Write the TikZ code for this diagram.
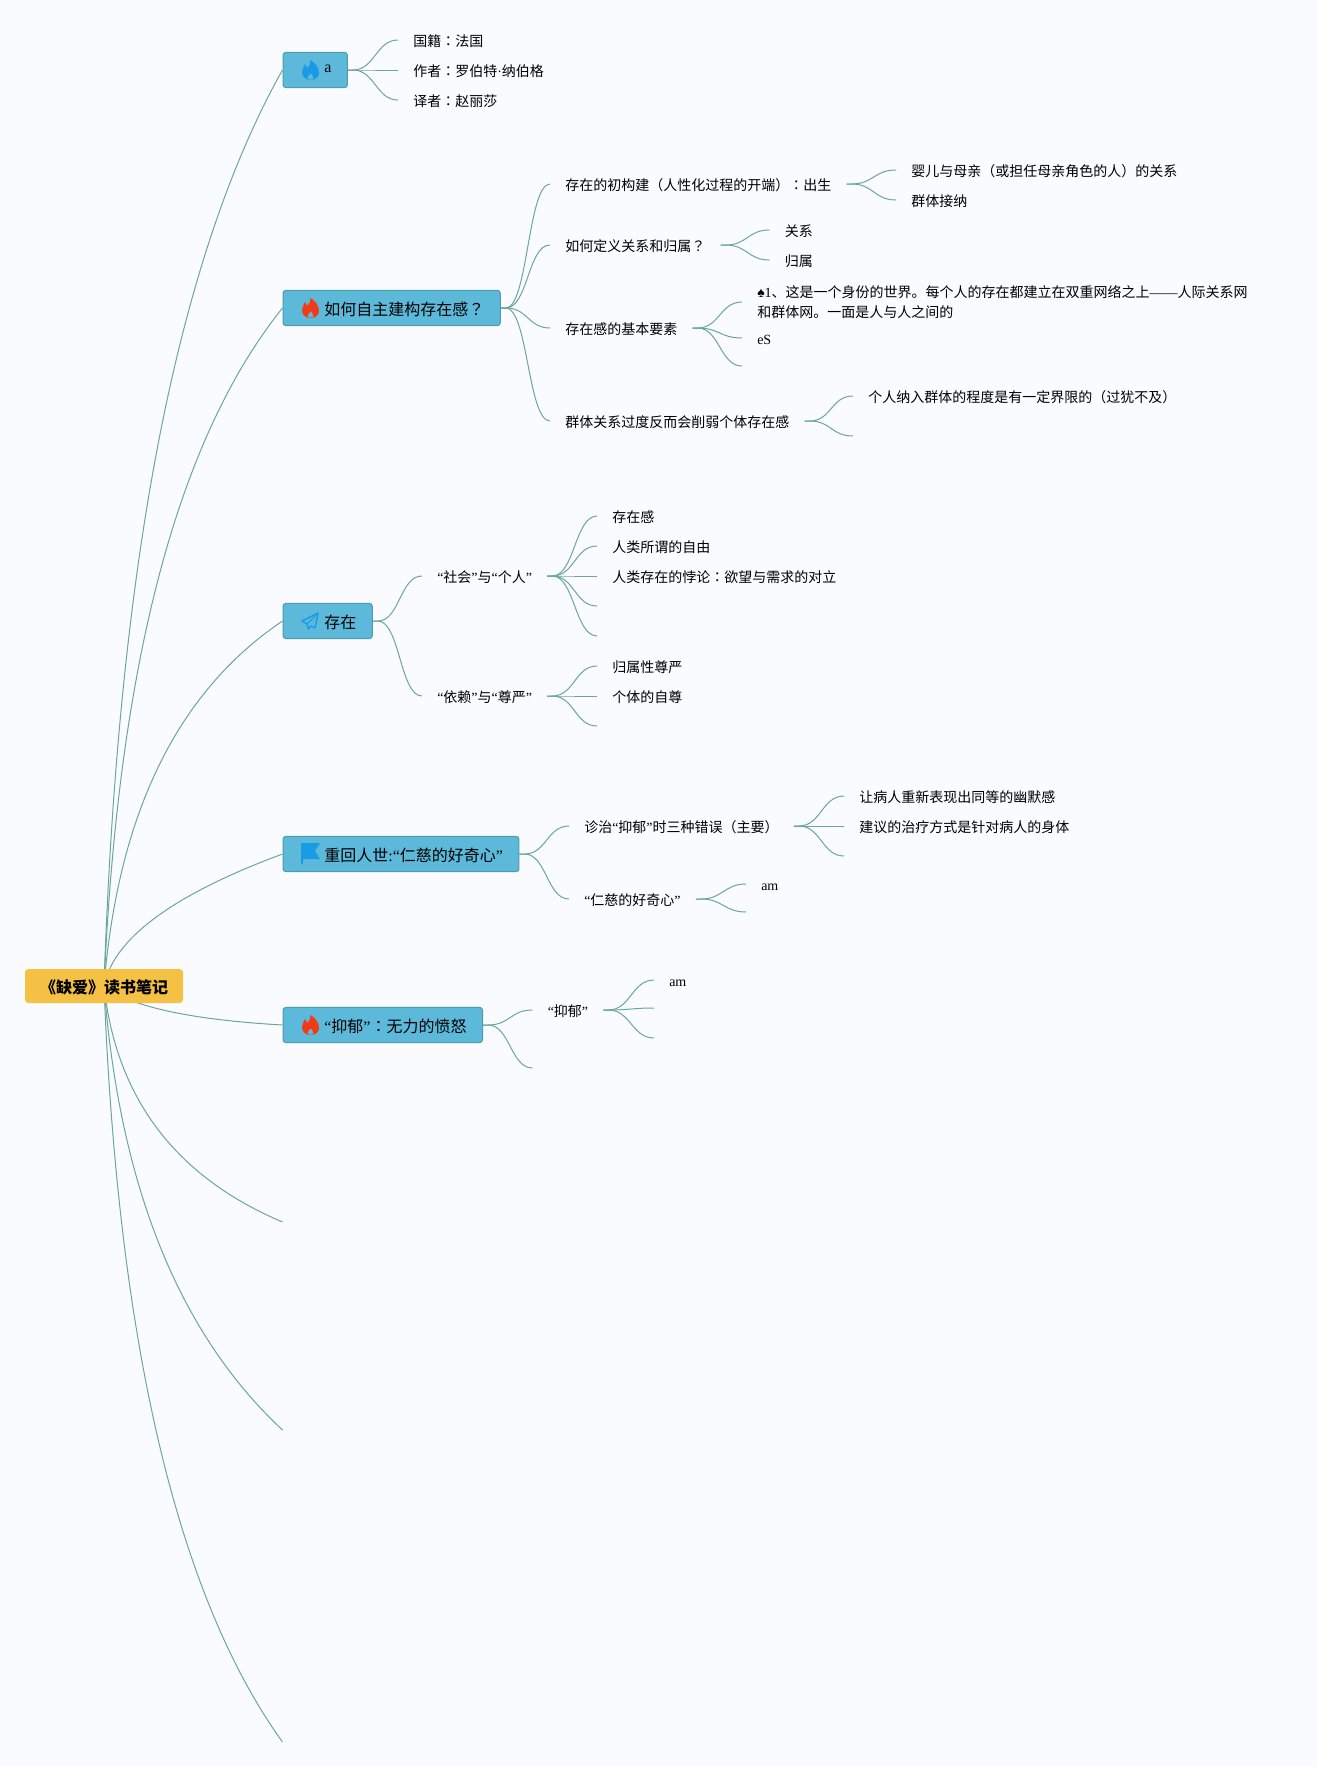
\documentclass[tikz,border=0pt]{standalone}
\usepackage{fontspec}
\setmainfont{Liberation Serif}
\newfontfamily\cjk{Noto Sans CJK SC}
\newfontfamily\cjktc{Noto Sans CJK TC}
\usetikzlibrary{calc,backgrounds}
\definecolor{pagebg}{HTML}{F9FBFF}
\definecolor{rootfill}{HTML}{F4C145}
\definecolor{boxfill}{HTML}{5DB9DA}
\definecolor{boxedge}{HTML}{4C9CAC}
\definecolor{linkcol}{HTML}{6CA69B}
\definecolor{iconblue}{HTML}{1A9BE6}
\definecolor{iconred}{HTML}{F23A16}
\newcommand{\ql}{{\rmfamily “}}
\newcommand{\qr}{{\rmfamily ”}}
\newcommand{\lat}[1]{{\rmfamily #1}}
\newcommand{\colonmark}{{\cjktc ：}}
\newcommand{\askmark}{{\cjktc ？}}
\tikzset{
    link/.style={draw=linkcol, line width=0.75pt},
    rootbox/.style={fill=rootfill, rounded corners=2.5pt, minimum width=118.5pt, minimum height=25.5pt, inner sep=0pt,
        font=\cjk\bfseries\fontsize{12}{14}\selectfont, text height=12.5pt, text depth=2pt},
    topic/.style={anchor=west, fill=boxfill, draw=boxedge, line width=0.75pt, rounded corners=2.25pt, minimum height=26.5pt,
        inner xsep=12pt, inner ysep=0pt, font=\cjk\fontsize{12}{14}\selectfont, text height=12.5pt, text depth=2pt,
        execute at begin node={\hspace*{19pt}}},
    txt/.style={anchor=west, inner xsep=11.25pt, inner ysep=0pt, align=left, font=\cjk\fontsize{10.5}{15}\selectfont},
    sub/.style={txt, text height=11.8pt, text depth=2pt},
    pics/flame/.style={code={
        \fill[#1] (0,10) .. controls (-5,10) and (-8.5,6.5) .. (-8.5,2) .. controls (-8.5,-1) and (-6.5,-3) .. (-5.5,-6)
            .. controls (-4,-4.5) and (-3.5,-3.5) .. (-3.2,-2) .. controls (-1,-4) and (0.5,-7) .. (0,-10)
            .. controls (4,-7.5) and (8.5,-3) .. (8.5,3) .. controls (8.5,7) and (5,10) .. (0,10) -- cycle;
        \fill[boxfill] (0.3,3.5) .. controls (1,5) and (3,6) .. (2.8,8) .. controls (2.6,10.2) and (-2.2,10.2) .. (-2.8,8)
            .. controls (-3,6.5) and (-1,5) .. (0.3,3.5) -- cycle;
    }}
}
\begin{document}
\begin{tikzpicture}[x=0.75pt, y=-0.75pt]
    \useasboundingbox (0,0) rectangle (1317,1767);

    % Root and main topics
    \node[rootbox] (root) at (104,986) {《缺爱》读书笔记};
    \node[topic] (topicA) at (282.5,70) {\raisebox{3.4pt}{\lat{a}}};
    \node[topic] (topicB) at (282.5,308) {如何自主建构存在感\askmark};
    \node[topic] (topicC) at (282.5,621) {存在};
    \node[topic] (topicD) at (282.5,854) {重回人世\lat{:}\ql 仁慈的好奇心\qr};
    \node[topic] (topicE) at (282.5,1025) {\ql 抑郁\qr\colonmark 无力的愤怒};
    \coordinate (freeF) at (282.5,1222);
    \coordinate (freeG) at (282.5,1430);
    \coordinate (freeH) at (282.5,1742);

    % Icons on the topics
    \pic at (310.5,70) {flame=iconblue};
    \pic at (310.5,308) {flame=iconred};
    \draw[iconblue, line width=1.1pt, line join=round] (318,613) -- (302,621) -- (307,624) -- (308.5,629) -- (311,626) -- (315,628) -- cycle;
    \draw[iconblue, line width=0.8pt] (318,613) -- (307,624);
    \fill[iconblue] (301,843) -- (320,843) -- (315,851) -- (320,859) -- (303,859) -- (303,864) -- (301,864) -- cycle;
    \pic at (310.5,1025) {flame=iconred};

    % Branch of topicA
    \node[sub] (a1) at (398,40) {国籍\colonmark 法国};
    \node[sub] (a2) at (398,70) {作者\colonmark 罗伯特\lat{·}纳伯格};
    \node[sub] (a3) at (398,100) {译者\colonmark 赵丽莎};

    % Branch of topicB
    \node[sub] (b1) at (550,184) {存在的初构建（人性化过程的开端）\colonmark 出生};
    \node[sub] (b2) at (550,245) {如何定义关系和归属\askmark};
    \node[sub] (b3) at (550,328) {存在感的基本要素};
    \node[sub] (b4) at (550,421) {群体关系过度反而会削弱个体存在感};
    \node[sub] (b11) at (896,170) {婴儿与母亲（或担任母亲角色的人）的关系};
    \node[sub] (b12) at (896,200) {群体接纳};
    \node[sub] (b21) at (769.5,230) {关系};
    \node[sub] (b22) at (769.5,260) {归属};
    \node[txt] (b31) at (742,302) {\lat{♠1}、这是一个身份的世界。每个人的存在都建立在双重网络之上\lat{——}人际关系网\\和群体网。一面是人与人之间的};
    \node[sub] (b32) at (742,338) {\lat{eS}};
    \coordinate (b33) at (742,366);
    \node[sub] (b41) at (853,396) {个人纳入群体的程度是有一定界限的（过犹不及）};
    \coordinate (b42) at (853,436);

    % Branch of topicC
    \node[sub] (c1) at (422,576) {\ql 社会\qr 与\ql 个人\qr};
    \node[sub] (c2) at (422,696) {\ql 依赖\qr 与\ql 尊严\qr};
    \node[sub] (c11) at (597,516) {存在感};
    \node[sub] (c12) at (597,546) {人类所谓的自由};
    \node[sub] (c13) at (597,576) {人类存在的悖论\colonmark 欲望与需求的对立};
    \coordinate (c14) at (597,606);
    \coordinate (c15) at (597,636);
    \node[sub] (c21) at (597,666) {归属性尊严};
    \node[sub] (c22) at (597,696) {个体的自尊};
    \coordinate (c23) at (597,726);

    % Branch of topicD
    \node[sub] (d1) at (569,826) {诊治\ql 抑郁\qr 时三种错误（主要）};
    \node[sub] (d2) at (569,899) {\ql 仁慈的好奇心\qr};
    \node[sub] (d11) at (844,796) {让病人重新表现出同等的幽默感};
    \node[sub] (d12) at (844,826) {建议的治疗方式是针对病人的身体};
    \coordinate (d13) at (844,856);
    \node[sub] (d21) at (746,884) {\lat{am}};
    \coordinate (d22) at (746,912);

    % Branch of topicE
    \node[sub] (e1) at (532.5,1010) {\ql 抑郁\qr};
    \coordinate (e2) at (532.5,1068);
    \node[sub] (e11) at (654,980) {\lat{am}};
    \coordinate (e12) at (654,1008);
    \coordinate (e13) at (654,1038);

    % Page and connectors, under the nodes
    \begin{pgfonlayer}{background}
        \fill[pagebg] (0,0) rectangle (1317,1767);
        \foreach \t/\cx/\cy in {topicA.west/125/350, topicB.west/125/504, topicC.west/125/727, topicD.west/118/915,
            topicE.west/144/1017, freeF/122/1154, freeG/127/1285, freeH/125/1523}
            \draw[link] (root.center) .. controls ($(root.center)!0.667!(\cx,\cy)$) and ($(\t)!0.667!(\cx,\cy)$) .. (\t);
        \foreach \p/\c in {topicA/a1.west, topicA/a2.west, topicA/a3.west,
            topicB/b1.west, topicB/b2.west, topicB/b3.west, topicB/b4.west,
            b1/b11.west, b1/b12.west, b2/b21.west, b2/b22.west, b3/b31.west, b3/b32.west, b3/b33, b4/b41.west, b4/b42,
            topicC/c1.west, topicC/c2.west, c1/c11.west, c1/c12.west, c1/c13.west, c1/c14, c1/c15,
            c2/c21.west, c2/c22.west, c2/c23,
            topicD/d1.west, topicD/d2.west, d1/d11.west, d1/d12.west, d1/d13, d2/d21.west, d2/d22,
            topicE/e1.west, topicE/e2, e1/e11.west, e1/e12, e1/e13}
            \draw[link] (\p.east) -- ++(5,0) .. controls +(22,0) and +(-22,0) .. (\c);
    \end{pgfonlayer}
\end{tikzpicture}
\end{document}
